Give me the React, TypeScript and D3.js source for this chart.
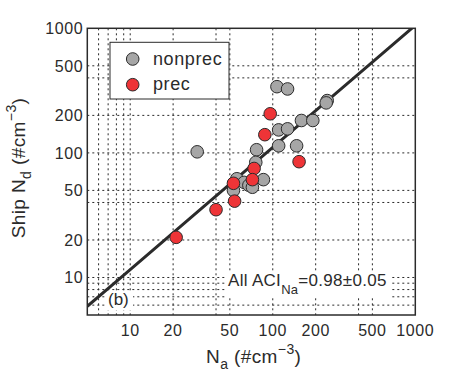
import React from "react";
import * as d3 from "d3";

const nonprecNa = [29.5, 107, 127, 241, 237, 159, 191, 110, 127, 110, 147, 77, 76, 56, 63, 68, 72, 86, 53];
const nonprecNd = [102, 340, 326, 263, 252, 182, 182, 153, 156, 114, 114, 106, 84, 62, 58, 55, 53, 61, 50];
const precNa = [96, 88, 153, 74, 72, 53, 54, 40, 21];
const precNd = [206, 140, 85, 75, 61, 57, 41, 35, 21];
const xTicks = [10, 20, 50, 100, 200, 500, 1000];
const yTicks = [10, 20, 50, 100, 200, 500, 1000];
const gridVals = [6, 7, 8, 9, 10, 20, 40, 50, 100, 200, 400, 500];
const fitCoef = 1.213;
const fitExp = 0.98;
const fitXs = [5, 10, 50, 100, 500, 1000];

const W = 459, H = 375;
const L = 87.3, R = 415.3, T = 28.3, B = 315;
const FONT = "'Liberation Sans', Arial, Helvetica, sans-serif";
const INK = "#2b2b2b";
const GRAY = "#a6a6a6";
const RED = "#ee3437";

export default function App() {
  const x = d3.scaleLog().domain([5, 1000]).range([L, R]);
  const y = d3.scaleLog().domain([5, 1000]).range([B, T]);
  const line = d3.line<number>().x((v) => x(v)).y((v) => y(fitCoef * Math.pow(v, fitExp)));
  const nonprec = nonprecNa.map((v, i) => ({ a: v, d: nonprecNd[i] }));
  const prec = precNa.map((v, i) => ({ a: v, d: precNd[i] }));
  const r = 6.3;
  return (
    <svg width={W} height={H} style={{ position: "absolute", left: 0, top: 0, background: "#fff" }} fontFamily={FONT}>
      <defs>
        <clipPath id="plotclip">
          <rect x={L} y={T} width={R - L} height={B - T} />
        </clipPath>
      </defs>
      <rect x={0} y={0} width={W} height={H} fill="#fff" />
      {/* grid */}
      <g stroke={INK} strokeWidth={1} strokeDasharray="2,3">
        {gridVals.map((g) => (
          <line key={"gx" + g} x1={x(g)} x2={x(g)} y1={T} y2={B} />
        ))}
        {gridVals.map((g) => (
          <line key={"gy" + g} y1={y(g)} y2={y(g)} x1={L} x2={R} />
        ))}
      </g>
      {/* tick labels */}
      <g fontSize={16} fill={INK} letterSpacing={0.6}>
        {xTicks.map((t) => (
          <text key={"xt" + t} x={x(t)} y={B + 21} textAnchor="middle">{t}</text>
        ))}
        {yTicks.map((t) => (
          <text key={"yt" + t} x={L - 4} y={y(t) + 6} textAnchor="end">{t}</text>
        ))}
      </g>
      {/* legend */}
      <rect x={110} y={42.3} width={119} height={56.7} fill="#fff" stroke={INK} strokeWidth={1} />
      <circle cx={132.7} cy={59} r={r} fill={GRAY} stroke={INK} strokeWidth={1} />
      <circle cx={132.7} cy={84.7} r={r} fill={RED} stroke={INK} strokeWidth={1} />
      <text x={153} y={64.5} fontSize={18} fill={INK} letterSpacing={0.6}>nonprec</text>
      <text x={153} y={90} fontSize={18} fill={INK} letterSpacing={0.6}>prec</text>
      {/* annotation backgrounds */}
      <rect x={106} y={291} width={27} height={19} fill="#fff" />
      <rect x={226} y={271} width={166} height={27} fill="#fff" />
      {/* fit line */}
      <path d={line(fitXs) || ""} fill="none" stroke={INK} strokeWidth={3} clipPath="url(#plotclip)" />
      {/* points */}
      <g stroke={INK} strokeWidth={1}>
        {nonprec.map((p, i) => (
          <circle key={"n" + i} cx={x(p.a)} cy={y(p.d)} r={r} fill={GRAY} />
        ))}
        {prec.map((p, i) => (
          <circle key={"p" + i} cx={x(p.a)} cy={y(p.d)} r={r} fill={RED} />
        ))}
      </g>
      {/* annotations */}
      <text x={108} y={305} fontSize={17} fill={INK}>(b)</text>
      <text x={228} y={286} fontSize={17} fill={INK} letterSpacing={0.3}>
        All ACI<tspan fontSize={13} dy={8}>Na</tspan><tspan dy={-8}>=0.98±0.05</tspan>
      </text>
      {/* frame */}
      <rect x={L} y={T} width={R - L} height={B - T} fill="none" stroke={INK} strokeWidth={1.5} />
      {/* axis labels */}
      <text x={206} y={363} fontSize={19} fill={INK} letterSpacing={0.4}>
        N<tspan fontSize={14} dy={6}>a</tspan><tspan dy={-6}> (#cm</tspan><tspan fontSize={14} dy={-9}>−3</tspan><tspan dy={9}>)</tspan>
      </text>
      <text transform="translate(25,168) rotate(-90)" textAnchor="middle" fontSize={19} fill={INK} letterSpacing={0.4}>
        Ship N<tspan fontSize={14} dy={6}>d</tspan><tspan dy={-6}> (#cm</tspan><tspan fontSize={14} dy={-9}>−3</tspan><tspan dy={9}>)</tspan>
      </text>
    </svg>
  );
}
